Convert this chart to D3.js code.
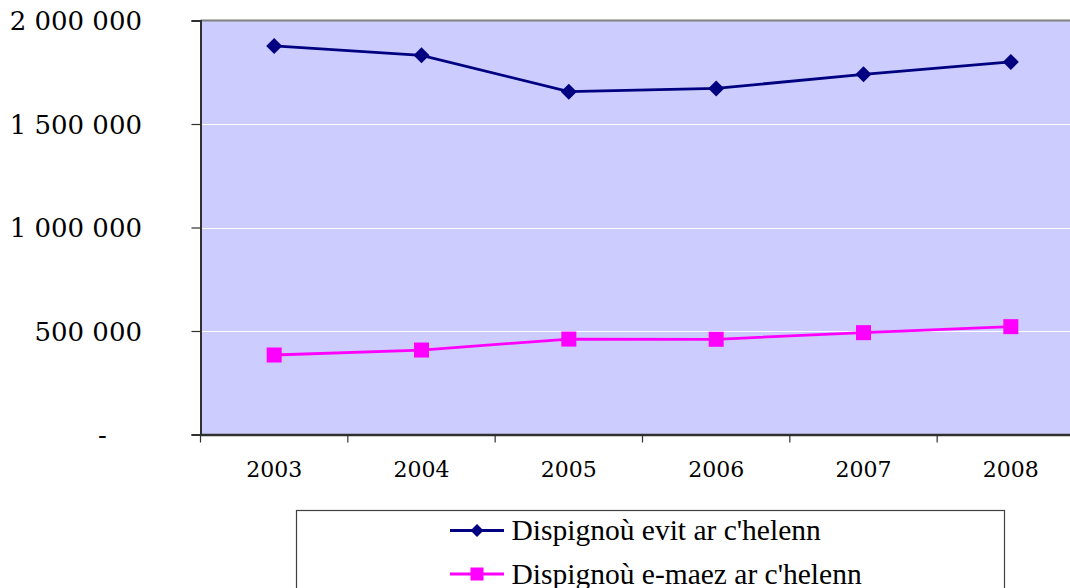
<!DOCTYPE html>
<html>
<head>
<meta charset="utf-8">
<script src="https://cdn.jsdelivr.net/npm/d3@7"></script>
<style>
  html, body { margin: 0; padding: 0; background: #ffffff; }
  svg { display: block; }
</style>
</head>
<body>
<svg id="chart" width="1070" height="588"></svg>
<script>
const years = ["2003", "2004", "2005", "2006", "2007", "2008"];
const seriesNames = ["Dispignoù evit ar c'helenn", "Dispignoù e-maez ar c'helenn"];
const evitValues = [1877000, 1832000, 1656000, 1672000, 1740000, 1800000];
const maezValues = [384000, 408000, 461000, 460000, 492000, 521000];
const yTickValues = [0, 500000, 1000000, 1500000, 2000000];

(function () {
const svg = d3.select("#chart");
const pL = 200.5, pT = 20.5, pR = 1084.5, pB = 434.5;

const x = d3.scaleBand().domain(years).range([pL, pR]).padding(0);
const y = d3.scaleLinear().domain([0, 2000000]).range([pB, pT]);
const cx = d => x(d) + x.bandwidth() / 2;

const fmt = v => v === 0 ? "-" : d3.format(",")(v).replace(/,/g, " ");

// plot background
svg.append("rect")
  .attr("x", pL).attr("y", pT)
  .attr("width", pR - pL).attr("height", pB - pT)
  .attr("fill", "#CCCCFF");

// gridlines
svg.append("g").selectAll("line")
  .data(yTickValues.filter(v => v > 0 && v < 2000000))
  .join("line")
  .attr("x1", pL).attr("x2", pR)
  .attr("y1", d => Math.round(y(d)) + 0.5).attr("y2", d => Math.round(y(d)) + 0.5)
  .attr("stroke", "#ffffff").attr("stroke-width", 1);

// top border
svg.append("line")
  .attr("x1", pL).attr("x2", pR + 10)
  .attr("y1", pT).attr("y2", pT)
  .attr("stroke", "#808080").attr("stroke-width", 2);

// Y axis
const yAxis = svg.append("g")
  .attr("transform", `translate(${pL},0)`)
  .call(d3.axisLeft(y).tickValues(yTickValues).tickSize(9).tickFormat(""));
yAxis.select(".domain").attr("stroke", "#303030").attr("stroke-width", 2);
yAxis.selectAll(".tick line").attr("stroke", "#303030").attr("stroke-width", 1.2);

svg.append("g").selectAll("text")
  .data(yTickValues)
  .join("text")
  .attr("x", d => d === 0 ? 102.5 : 142)
  .attr("y", d => y(d) + 9.5)
  .attr("text-anchor", d => d === 0 ? "middle" : "end")
  .attr("font-family", "'DejaVu Serif', serif")
  .attr("font-size", 26)
  .attr("fill", "#000")
  .text(fmt);

// X axis
const xAxis = svg.append("g")
  .attr("transform", `translate(0,${pB})`)
  .call(d3.axisBottom(x).tickSize(0).tickFormat(""));
xAxis.select(".domain").attr("stroke", "#303030").attr("stroke-width", 2.5);
xAxis.selectAll(".tick").remove();

// x category tick marks (between categories)
svg.append("g").selectAll("line")
  .data(years)
  .join("line")
  .attr("x1", d => x(d)).attr("x2", d => x(d))
  .attr("y1", pB).attr("y2", pB + 8)
  .attr("stroke", "#303030").attr("stroke-width", 1.2);

svg.append("g").selectAll("text")
  .data(years)
  .join("text")
  .attr("x", d => cx(d))
  .attr("y", 477)
  .attr("text-anchor", "middle")
  .attr("font-family", "'DejaVu Serif', serif")
  .attr("font-size", 22)
  .attr("fill", "#000")
  .text(d => d);

// lines
const line = d3.line().x((d, i) => cx(years[i])).y(d => y(d));

svg.append("path").datum(evitValues)
  .attr("d", line).attr("fill", "none")
  .attr("stroke", "#000080").attr("stroke-width", 2.8);
svg.append("path").datum(maezValues)
  .attr("d", line).attr("fill", "none")
  .attr("stroke", "#FF00FF").attr("stroke-width", 2.8);

// markers
const diamond = s => `M0,${-s} L${s},0 L0,${s} L${-s},0 Z`;
svg.append("g").selectAll("path")
  .data(evitValues)
  .join("path")
  .attr("transform", (d, i) => `translate(${cx(years[i])},${y(d)})`)
  .attr("d", diamond(8))
  .attr("fill", "#000080");

svg.append("g").selectAll("rect")
  .data(maezValues)
  .join("rect")
  .attr("x", (d, i) => cx(years[i]) - 7.5)
  .attr("y", d => y(d) - 7.5)
  .attr("width", 15).attr("height", 15)
  .attr("fill", "#FF00FF");

// legend
const legend = svg.append("g");
legend.append("rect")
  .attr("x", 296.5).attr("y", 510.5)
  .attr("width", 708).attr("height", 100)
  .attr("fill", "#ffffff").attr("stroke", "#404040").attr("stroke-width", 1.2);

const legendRows = [
  { name: seriesNames[0], color: "#000080", shape: "diamond", ly: 530.5 },
  { name: seriesNames[1], color: "#FF00FF", shape: "square", ly: 574 }
];
legendRows.forEach(r => {
  legend.append("line")
    .attr("x1", 450).attr("x2", 504)
    .attr("y1", r.ly).attr("y2", r.ly)
    .attr("stroke", r.color).attr("stroke-width", 2.8);
  if (r.shape === "diamond") {
    legend.append("path")
      .attr("transform", `translate(477,${r.ly})`)
      .attr("d", diamond(6.5))
      .attr("fill", r.color);
  } else {
    legend.append("rect")
      .attr("x", 477 - 6.5).attr("y", r.ly - 6.5)
      .attr("width", 13).attr("height", 13)
      .attr("fill", r.color);
  }
  legend.append("text")
    .attr("x", 511.5).attr("y", r.ly + 9.5)
    .attr("font-family", "'Liberation Serif', 'Times New Roman', serif")
    .attr("font-size", 29.5)
    .attr("fill", "#000")
    .text(r.name);
});
})();
</script>
</body>
</html>
